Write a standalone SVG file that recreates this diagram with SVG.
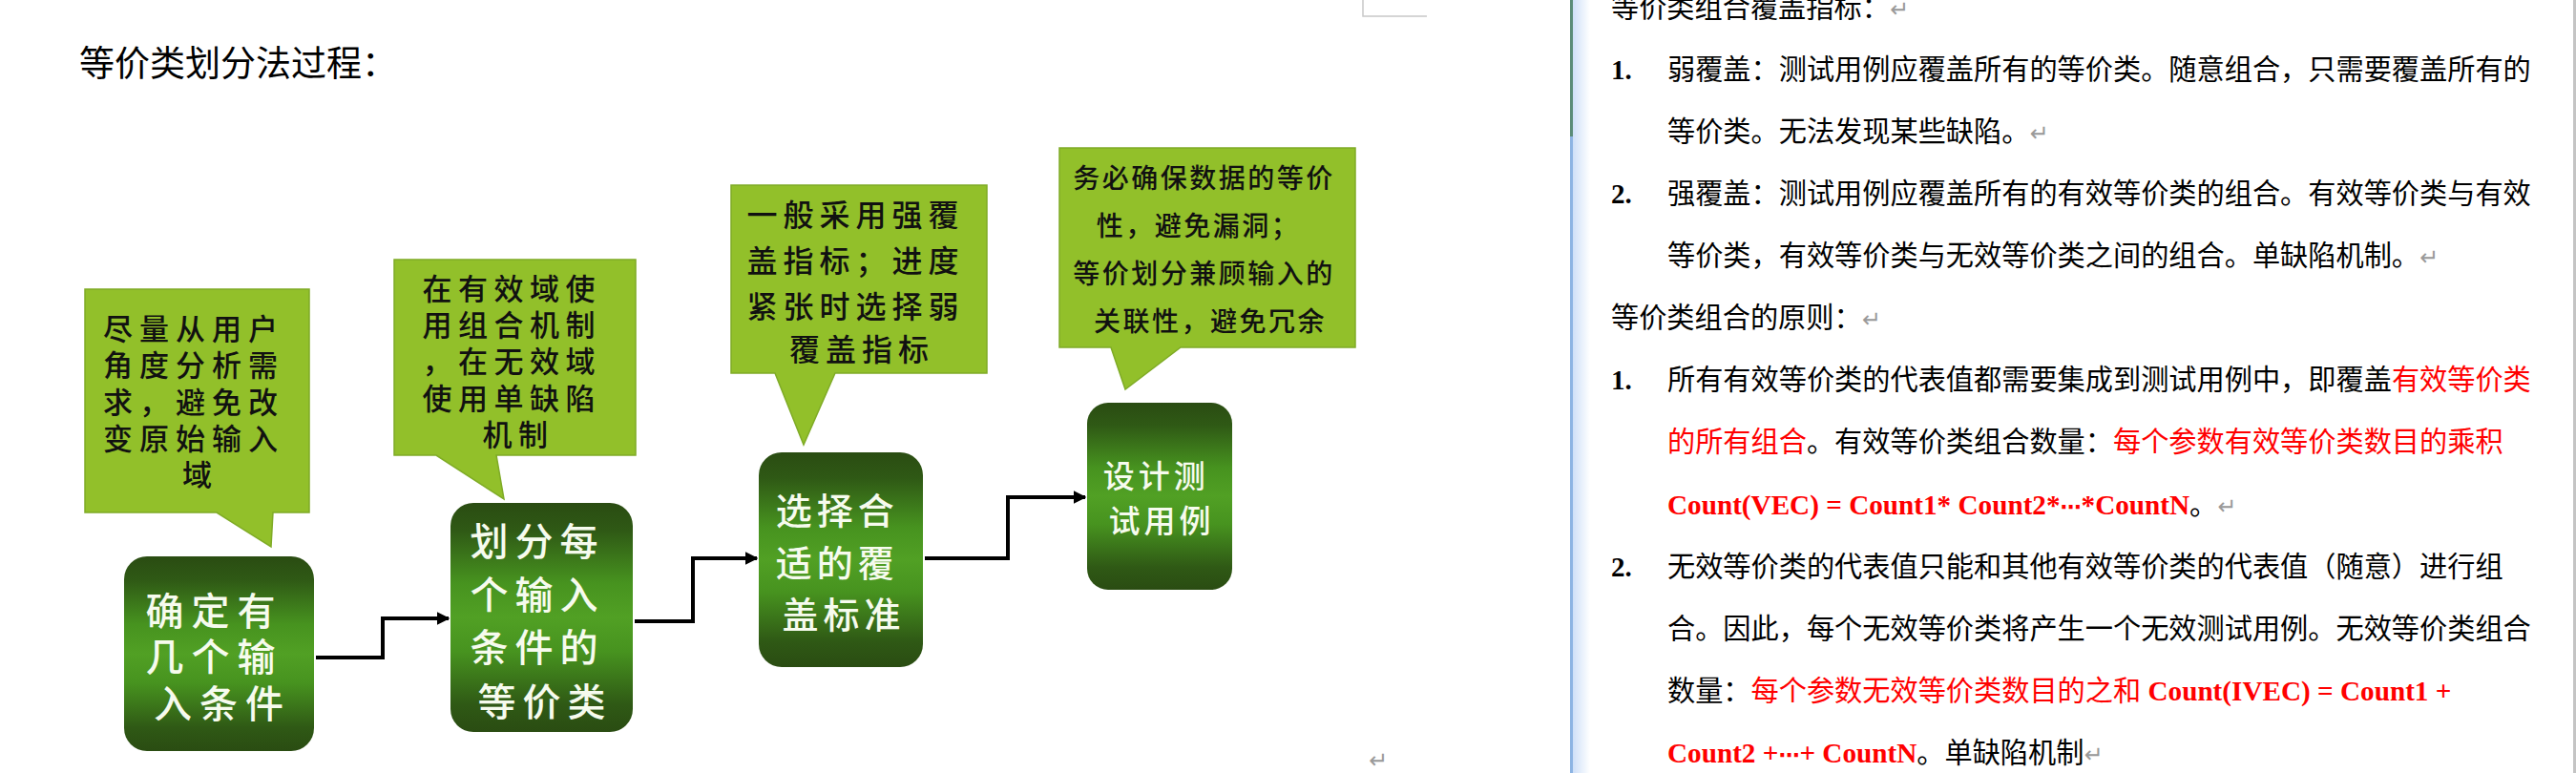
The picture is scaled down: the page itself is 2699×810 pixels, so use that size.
<svg xmlns="http://www.w3.org/2000/svg" width="2699" height="810" viewBox="0 0 2699 810">
<defs>
<linearGradient id="boxGrad" x1="0" y1="0" x2="0" y2="1">
<stop offset="0" stop-color="#2a4c12"/>
<stop offset="0.12" stop-color="#2f5915"/>
<stop offset="0.35" stop-color="#47931f"/>
<stop offset="0.5" stop-color="#51a024"/>
<stop offset="0.65" stop-color="#47931f"/>
<stop offset="0.88" stop-color="#2f5915"/>
<stop offset="1" stop-color="#2a4c12"/>
</linearGradient>
<linearGradient id="sepGrad" x1="0" y1="0" x2="1" y2="0">
<stop offset="0" stop-color="#cfe0f8"/>
<stop offset="1" stop-color="#ffffff"/>
</linearGradient>
<marker id="arrow" viewBox="0 0 10 10" refX="9" refY="5" markerWidth="3.4" markerHeight="3.4" markerUnits="strokeWidth" orient="auto">
<path d="M0,0 L10,5 L0,10 Z" fill="#000"/>
</marker>
<style>
.callout{fill:#92c02a;stroke:#7fab26;stroke-width:1.5}
.box{fill:url(#boxGrad)}
.ctext{font-family:"Noto Sans CJK SC",sans-serif;font-weight:500;fill:#111;text-anchor:middle}
.btext{font-family:"Noto Sans CJK SC",sans-serif;font-weight:500;fill:#f6fbee;text-anchor:middle}
.conn{fill:none;stroke:#000;stroke-width:4;marker-end:url(#arrow)}
.doc{font-family:"Liberation Serif","Noto Sans CJK SC",serif;font-size:29.2px;fill:#000}
.num{font-family:"Liberation Serif",serif;font-weight:bold;font-size:29px;fill:#000}
.red{fill:#ff0000}
.cnt{font-family:"Liberation Serif",serif;font-weight:bold;fill:#ff0000}
.ell{font-family:"DejaVu Sans",sans-serif;font-weight:bold;fill:#ff0000;font-size:22px}
.ret{font-family:"DejaVu Sans",sans-serif;fill:#9a9a9a;font-size:24px}
</style>
</defs>
<rect width="2699" height="810" fill="#ffffff"/>

<text x="83" y="80" font-family="Noto Sans CJK SC, sans-serif" font-size="37" fill="#000">等价类划分法过程：</text>

<!-- page corner mark -->
<path d="M1428,0 V17 H1495" fill="none" stroke="#c8c8c8" stroke-width="1.5"/>
<text x="1434" y="805" class="ret" font-size="26">↵</text>

<!-- callouts -->
<g id="callout1">
<path class="callout" d="M89,303 H324 V537 H286 L284,573 L227,537 H89 Z"/>
<text class="ctext" font-size="31" letter-spacing="7">
<tspan x="210" y="356">尽量从用户</tspan>
<tspan x="210" y="394">角度分析需</tspan>
<tspan x="210" y="433">求，避免改</tspan>
<tspan x="210" y="471">变原始输入</tspan>
<tspan x="210" y="509">域</tspan>
</text>
</g>
<g id="callout2">
<path class="callout" d="M413,272 H666 V477 H520 L528,523 L457,477 H413 Z"/>
<text class="ctext" font-size="31" letter-spacing="6.5">
<tspan x="543" y="314">在有效域使</tspan>
<tspan x="543" y="352">用组合机制</tspan>
<tspan x="543" y="390">，在无效域</tspan>
<tspan x="543" y="429">使用单缺陷</tspan>
<tspan x="543" y="467">机制</tspan>
</text>
</g>
<g id="callout3">
<path class="callout" d="M766,194 H1034 V391 H875 L842,466 L812,391 H766 Z"/>
<text class="ctext" font-size="32" letter-spacing="6">
<tspan x="903" y="237">一般采用强覆</tspan>
<tspan x="903" y="285">盖指标；进度</tspan>
<tspan x="903" y="333">紧张时选择弱</tspan>
<tspan x="903" y="378">覆盖指标</tspan>
</text>
</g>
<g id="callout4">
<path class="callout" d="M1110,155 H1420 V364 H1237 L1179,408 L1164,364 H1110 Z"/>
<text class="ctext" font-size="28" letter-spacing="2.5">
<tspan x="1266" y="197">务必确保数据的等价</tspan>
<tspan x="1260" y="247">性，避免漏洞；</tspan>
<tspan x="1266" y="297">等价划分兼顾输入的</tspan>
<tspan x="1268" y="347">关联性，避免冗余</tspan>
</text>
</g>

<!-- process boxes -->
<g id="box1">
<rect class="box" x="130" y="583" width="199" height="204" rx="24"/>
<text class="btext" font-size="40" letter-spacing="8">
<tspan x="233" y="655">确定有</tspan>
<tspan x="233" y="703">几个输</tspan>
<tspan x="233" y="752">入条件</tspan>
</text>
</g>
<g id="box2">
<rect class="box" x="472" y="527" width="191" height="240" rx="24"/>
<text class="btext" font-size="40" letter-spacing="7">
<tspan x="571" y="582">划分每</tspan>
<tspan x="571" y="638">个输入</tspan>
<tspan x="571" y="693">条件的</tspan>
<tspan x="571" y="750">等价类</tspan>
</text>
</g>
<g id="box3">
<rect class="box" x="795" y="474" width="172" height="225" rx="24"/>
<text class="btext" font-size="38" letter-spacing="5">
<tspan x="884" y="549">选择合</tspan>
<tspan x="884" y="604">适的覆</tspan>
<tspan x="884" y="658">盖标准</tspan>
</text>
</g>
<g id="box4">
<rect class="box" x="1139" y="422" width="152" height="196" rx="22"/>
<text class="btext" font-size="33" letter-spacing="4">
<tspan x="1217" y="511">设计测</tspan>
<tspan x="1217" y="558">试用例</tspan>
</text>
</g>

<!-- connectors -->
<g id="connectors">
<path class="conn" d="M331,689 H401 V648 H470"/>
<path class="conn" d="M665,651 H726 V585 H793"/>
<path class="conn" d="M969,585 H1056 V521 H1137"/>
</g>

<!-- document separator -->
<rect x="1648" y="0" width="18" height="810" fill="url(#sepGrad)"/>
<rect x="1645" y="0" width="3" height="810" fill="#8db4e3"/>
<rect x="1645" y="0" width="3" height="143" fill="#5a8c78"/>
<rect x="2696" y="0" width="3" height="810" fill="#c4c4c4"/>

<!-- document text -->
<g id="document">
<text class="doc" x="1688" y="18">等价类组合覆盖指标：<tspan class="ret">↵</tspan></text>
<text class="num" x="1688" y="83">1.</text>
<text class="doc" x="1747" y="83">弱覆盖：测试用例应覆盖所有的等价类。随意组合，只需要覆盖所有的</text>
<text class="doc" x="1747" y="148">等价类。无法发现某些缺陷。<tspan class="ret">↵</tspan></text>
<text class="num" x="1688" y="213">2.</text>
<text class="doc" x="1747" y="213">强覆盖：测试用例应覆盖所有的有效等价类的组合。有效等价类与有效</text>
<text class="doc" x="1747" y="278">等价类，有效等价类与无效等价类之间的组合。单缺陷机制。<tspan class="ret">↵</tspan></text>
<text class="doc" x="1688" y="343">等价类组合的原则：<tspan class="ret">↵</tspan></text>
<text class="num" x="1688" y="408">1.</text>
<text class="doc" x="1747" y="408">所有有效等价类的代表值都需要集成到测试用例中，即覆盖<tspan class="red">有效等价类</tspan></text>
<text class="doc" x="1747" y="473"><tspan class="red">的所有组合</tspan>。有效等价类组合数量：<tspan class="red">每个参数有效等价类数目的乘积</tspan></text>
<text class="doc" x="1747" y="539"><tspan class="cnt">Count(VEC) = Count1* Count2*</tspan><tspan class="ell">⋯</tspan><tspan class="cnt">*CountN</tspan>。<tspan class="ret">↵</tspan></text>
<text class="num" x="1688" y="604">2.</text>
<text class="doc" x="1747" y="604">无效等价类的代表值只能和其他有效等价类的代表值（随意）进行组</text>
<text class="doc" x="1747" y="669">合。因此，每个无效等价类将产生一个无效测试用例。无效等价类组合</text>
<text class="doc" x="1747" y="734">数量：<tspan class="red">每个参数无效等价类数目的之和 </tspan><tspan class="cnt">Count(IVEC) = Count1 +</tspan></text>
<text class="doc" x="1747" y="799"><tspan class="cnt">Count2 +</tspan><tspan class="ell">⋯</tspan><tspan class="cnt">+ CountN</tspan>。单缺陷机制<tspan class="ret">↵</tspan></text>
</g>
</svg>
